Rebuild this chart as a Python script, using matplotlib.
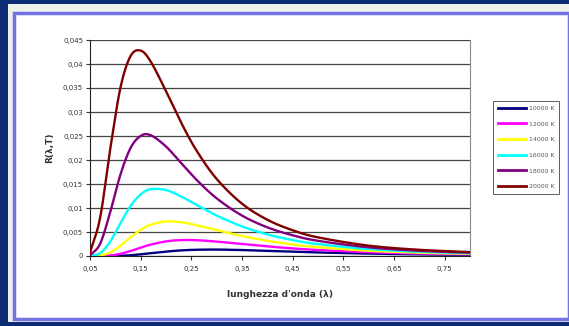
import numpy as np
import matplotlib
matplotlib.use("Agg")
import matplotlib.pyplot as plt
from matplotlib.patches import Rectangle
from matplotlib.ticker import FixedLocator, FixedFormatter

# ---- data ----
wavelength = [0.05, 0.07, 0.09, 0.11, 0.13, 0.15, 0.17, 0.20, 0.23, 0.26,
              0.30, 0.35, 0.40, 0.45, 0.50, 0.60, 0.70, 0.80]
r_10000 = [0.0, 0.0, 0.00001, 0.00005, 0.00016, 0.00035, 0.00058, 0.00092, 0.00117, 0.00130,
           0.00134, 0.00124, 0.00107, 0.00090, 0.00074, 0.00050, 0.00034, 0.00024]
r_12000 = [0.0, 0.00001, 0.00011, 0.00045, 0.00104, 0.00174, 0.00238, 0.00304, 0.00332, 0.00329,
           0.00300, 0.00250, 0.00200, 0.00158, 0.00125, 0.00079, 0.00051, 0.00034]
r_14000 = [0.0, 0.0001, 0.00073, 0.00212, 0.00387, 0.00544, 0.00652, 0.00719, 0.00703, 0.00642,
           0.00540, 0.00416, 0.00316, 0.00240, 0.00183, 0.00110, 0.00069, 0.00046]
r_16000 = [0.00002, 0.00061, 0.00302, 0.00682, 0.01041, 0.01283, 0.01392, 0.01374, 0.01240, 0.01067,
           0.00843, 0.00616, 0.00450, 0.00331, 0.00248, 0.00144, 0.00089, 0.00057]
r_18000 = [0.00014, 0.00255, 0.00918, 0.01693, 0.02249, 0.02502, 0.02515, 0.02281, 0.01935, 0.01590,
           0.01201, 0.00842, 0.00597, 0.00431, 0.00316, 0.00180, 0.00109, 0.00069]
r_20000 = [0.00070, 0.00798, 0.02232, 0.03502, 0.04164, 0.04279, 0.04047, 0.03434, 0.02776, 0.02201,
           0.01605, 0.01090, 0.00755, 0.00536, 0.00388, 0.00216, 0.00129, 0.00082]

series_labels = ["10000 K", "12000 K", "14000 K", "16000 K", "18000 K", "20000 K"]
series_values = [r_10000, r_12000, r_14000, r_16000, r_18000, r_20000]
colors = ["#000080", "#ff00ff", "#ffff00", "#00ffff", "#800080", "#800000"]

xtick_vals = [0.05, 0.15, 0.25, 0.35, 0.45, 0.55, 0.65, 0.75]
xtick_labels = ["0,05", "0,15", "0,25", "0,35", "0,45", "0,55", "0,65", "0,75"]
ytick_vals = [0, 0.005, 0.01, 0.015, 0.02, 0.025, 0.03, 0.035, 0.04, 0.045]
ytick_labels = ["0", "0,005", "0,01", "0,015", "0,02", "0,025", "0,03", "0,035", "0,04", "0,045"]


def smooth(x, y, n=20):
    """Catmull-Rom smoothing (like a spreadsheet 'smoothed line')."""
    x = np.asarray(x, float)
    y = np.asarray(y, float)
    px = np.concatenate([[2 * x[0] - x[1]], x, [2 * x[-1] - x[-2]]])
    py = np.concatenate([[2 * y[0] - y[1]], y, [2 * y[-1] - y[-2]]])
    xs, ys = [], []
    t = np.linspace(0, 1, n, endpoint=False)
    for i in range(1, len(px) - 2):
        p0, p1, p2, p3 = (np.array([px[j], py[j]]) for j in (i - 1, i, i + 1, i + 2))
        tt = t[:, None]
        pts = 0.5 * ((2 * p1) + (-p0 + p2) * tt + (2 * p0 - 5 * p1 + 4 * p2 - p3) * tt ** 2
                     + (-p0 + 3 * p1 - 3 * p2 + p3) * tt ** 3)
        xs.append(pts[:, 0])
        ys.append(pts[:, 1])
    xs.append([x[-1]])
    ys.append([y[-1]])
    return np.concatenate(xs), np.maximum(np.concatenate(ys), 0)


W, H = 569, 326
fig = plt.figure(figsize=(W / 100, H / 100), dpi=100)
fig.patch.set_facecolor("#0c2b74")

# outer light panel and inner framed panel
fig.add_artist(Rectangle((8 / W, 4 / H), 1 - 8 / W, 1 - 8 / H, transform=fig.transFigure,
                         facecolor="#eef2ea", edgecolor="none", zorder=0))
fig.add_artist(Rectangle((14 / W, 7 / H), 1 - 14 / W, 1 - 20 / H, transform=fig.transFigure,
                         facecolor="white", edgecolor="#7272e2", linewidth=2.5, zorder=0))

ax = fig.add_axes([90 / W, 1 - 256 / H, (470 - 90) / W, (256 - 40) / H])
ax.set_facecolor("white")

for lab, vals, c in zip(series_labels, series_values, colors):
    sx, sy = smooth(wavelength, vals)
    ax.plot(sx, sy, color=c, lw=1.7, label=lab, zorder=3)

ax.set_xlim(0.05, 0.80)
ax.set_ylim(0, 0.045)
ax.xaxis.set_major_locator(FixedLocator(xtick_vals))
ax.xaxis.set_major_formatter(FixedFormatter(xtick_labels))
ax.yaxis.set_major_locator(FixedLocator(ytick_vals))
ax.yaxis.set_major_formatter(FixedFormatter(ytick_labels))
ax.tick_params(axis="both", labelsize=5, colors="#333333", length=3, width=0.8)
ax.tick_params(axis="x", pad=4)
ax.tick_params(axis="y", pad=2)
ax.yaxis.grid(True, color="#444444", lw=0.9, zorder=1)
ax.spines["top"].set_visible(False)
ax.spines["right"].set_color("#888888")
ax.spines["left"].set_color("#222222")
ax.spines["bottom"].set_color("#222222")

ax.set_ylabel("R(λ,T)", fontsize=6.5, fontweight="bold", color="#333333", labelpad=6)
ax.set_xlabel("lunghezza d'onda (λ)", fontsize=6.5, fontweight="bold", color="#333333", labelpad=13)

leg = fig.legend(loc="upper left", bbox_to_anchor=(490 / W, 1 - 98 / H), fontsize=4.5,
                 frameon=True, fancybox=False, edgecolor="#333333", handlelength=4.5,
                 handletextpad=0.6, borderpad=0.7, labelspacing=1.65)
leg.get_frame().set_linewidth(0.7)
for line in leg.get_lines():
    line.set_linewidth(2.0)
for t in leg.get_texts():
    t.set_color("#555555")

fig.savefig("out.png", dpi=100, facecolor=fig.get_facecolor())
